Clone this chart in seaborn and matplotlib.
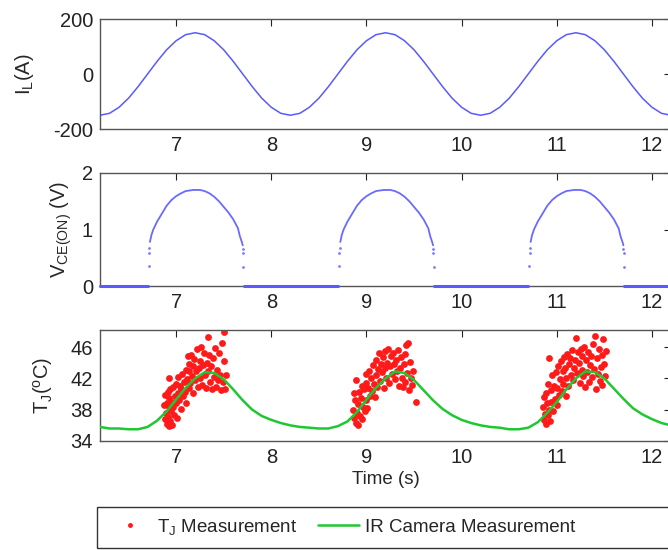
import numpy as np
import pandas as pd
import matplotlib
matplotlib.use("Agg")
import matplotlib.pyplot as plt
import seaborn as sns
from matplotlib.lines import Line2D
from matplotlib.patches import Rectangle

# ---------------- data ----------------
time_grid = np.round(np.arange(6.2, 12.2001, 0.1), 2)

il_values = [-150, -143, -121, -88, -46, 0, 46, 88, 121, 143,
             150, 143, 121, 88, 46, 0, -46, -88, -121, -143,
             -150, -143, -121, -88, -46, 0, 46, 88, 121, 143,
             150, 143, 121, 88, 46, 0, -46, -88, -121, -143,
             -150, -143, -121, -88, -46, 0, 46, 88, 121, 143,
             150, 143, 121, 88, 46, 0, -46, -88, -121, -143,
             -150]

ir_values = [35.8, 35.6, 35.6, 35.5, 35.5, 35.8, 36.6, 37.8, 39.3, 40.8,
             42.0, 42.8, 42.7, 41.9, 40.6, 39.2, 38.0, 37.2, 36.7, 36.3,
             36.0, 35.8, 35.7, 35.6, 35.6, 35.9, 36.5, 37.7, 39.3, 40.8,
             42.0, 42.9, 42.7, 41.8, 40.5, 39.2, 38.1, 37.3, 36.7, 36.3,
             36.0, 35.8, 35.7, 35.5, 35.5, 35.7, 36.4, 37.6, 39.0, 40.6,
             42.0, 42.9, 42.8, 42.0, 40.7, 39.4, 38.2, 37.4, 36.8, 36.3,
             36.0]

# V_CE(ON) conduction arcs (dense part)
vce_arc_values = [0.78, 0.90, 1.00, 1.14, 1.28, 1.42, 1.52, 1.59, 1.64, 1.68,
                  1.70, 1.70, 1.68, 1.64, 1.58, 1.50, 1.40, 1.30, 1.18, 1.02,
                  0.88, 0.78, 0.72]
vce_arc1_t = [6.725, 6.74, 6.76, 6.80, 6.85, 6.90, 6.95, 7.00, 7.05, 7.10,
              7.18, 7.25, 7.30, 7.35, 7.40, 7.45, 7.50, 7.55, 7.60, 7.65,
              7.67, 7.69, 7.70]
vce_arc2_t = [8.725, 8.74, 8.76, 8.80, 8.85, 8.90, 8.95, 9.00, 9.05, 9.10,
              9.18, 9.25, 9.30, 9.35, 9.40, 9.45, 9.50, 9.55, 9.60, 9.65,
              9.67, 9.69, 9.70]
vce_arc3_t = [10.725, 10.74, 10.76, 10.80, 10.85, 10.90, 10.95, 11.00, 11.05, 11.10,
              11.18, 11.25, 11.30, 11.35, 11.40, 11.45, 11.50, 11.55, 11.60, 11.65,
              11.67, 11.69, 11.70]
# sparse turn-on / turn-off samples
vce_edge_t = [6.710, 6.715, 6.720, 7.700, 7.703, 7.706,
              8.710, 8.715, 8.720, 9.700, 9.703, 9.706,
              10.710, 10.715, 10.720, 11.700, 11.703, 11.706]
vce_edge_v = [0.35, 0.58, 0.68, 0.66, 0.58, 0.33,
              0.35, 0.58, 0.68, 0.66, 0.58, 0.33,
              0.35, 0.58, 0.68, 0.66, 0.58, 0.33]
# off-state (0 V) intervals
vce_off_start = [6.2, 7.71, 9.71, 11.71]
vce_off_end = [6.70, 8.70, 10.70, 12.2]

tj_time = [
    6.87, 6.88, 6.88, 6.89, 6.90, 6.90, 6.91, 6.91, 6.92, 6.92, 6.93, 6.93, 6.94, 6.94,
    6.95, 6.96, 6.96, 6.97, 6.97, 6.98, 6.99, 7.00, 7.00, 7.01, 7.02, 7.02, 7.03, 7.04,
    7.05, 7.05, 7.06, 7.07, 7.08, 7.09, 7.10, 7.10, 7.11, 7.12, 7.13, 7.13, 7.14, 7.15,
    7.16, 7.17, 7.18, 7.18, 7.19, 7.20, 7.21, 7.22, 7.23, 7.24, 7.25, 7.25, 7.26, 7.27,
    7.28, 7.29, 7.30, 7.31, 7.32, 7.33, 7.34, 7.35, 7.36, 7.37, 7.38, 7.39, 7.40, 7.41,
    7.42, 7.43, 7.44, 7.45, 7.46, 7.47, 7.48, 7.49, 7.50, 7.51, 7.52, 7.50,
    8.86, 8.87, 8.87, 8.88, 8.89, 8.89, 8.90, 8.91, 8.91, 8.92, 8.93, 8.94, 8.95, 8.95,
    8.96, 8.97, 8.98, 8.99, 9.00, 9.00, 9.01, 9.02, 9.03, 9.04, 9.05, 9.06, 9.07, 9.08,
    9.09, 9.10, 9.10, 9.11, 9.12, 9.13, 9.14, 9.15, 9.16, 9.17, 9.18, 9.19, 9.20, 9.21,
    9.22, 9.23, 9.24, 9.25, 9.26, 9.27, 9.28, 9.29, 9.30, 9.31, 9.32, 9.33, 9.34, 9.35,
    9.36, 9.37, 9.38, 9.39, 9.40, 9.41, 9.42, 9.43, 9.44, 9.45, 9.46, 9.47, 9.48, 9.49,
    9.52,
    10.86, 10.87, 10.87, 10.88, 10.89, 10.89, 10.90, 10.91, 10.91, 10.92, 10.92, 10.93,
    10.94, 10.94, 10.95, 10.96, 10.97, 10.98, 10.99, 11.00, 11.00, 11.01, 11.02, 11.03,
    11.04, 11.05, 11.06, 11.07, 11.08, 11.09, 11.10, 11.10, 11.11, 11.12, 11.13, 11.14,
    11.15, 11.16, 11.17, 11.18, 11.19, 11.20, 11.21, 11.22, 11.23, 11.24, 11.25, 11.26,
    11.27, 11.28, 11.29, 11.30, 11.31, 11.32, 11.33, 11.34, 11.35, 11.36, 11.37, 11.38,
    11.39, 11.40, 11.41, 11.42, 11.43, 11.44, 11.45, 11.46, 11.47, 11.48, 11.49, 11.50,
    11.51, 11.52]
tj_temp = [
    38.6, 36.8, 39.9, 37.6, 38.9, 36.2, 40.3, 37.1, 42.1, 38.3, 35.9, 39.5, 36.6, 40.7,
    37.9, 36.0, 39.0, 38.4, 40.9, 37.3, 39.8, 41.3, 38.8, 36.9, 40.1, 42.2, 39.2, 41.0,
    38.1, 40.6, 42.6, 39.7, 41.6, 40.3, 43.1, 38.9, 41.9, 44.9, 40.8, 42.9, 43.8, 41.4,
    45.0, 42.3, 40.2, 43.6, 44.5, 41.8, 42.9, 45.8, 40.9, 43.4, 44.2, 42.0, 46.0, 41.2,
    43.7, 45.3, 42.5, 40.8, 44.0, 47.3, 42.9, 45.0, 41.5, 43.6, 40.6, 44.6, 42.2, 45.9,
    40.9, 43.1, 41.8, 45.2, 42.5, 40.5, 46.6, 41.6, 44.2, 40.7, 42.4, 48.0,
    38.0, 40.1, 36.9, 39.2, 36.3, 41.8, 37.6, 38.7, 36.0, 40.3, 37.2, 39.5, 36.8, 41.0,
    38.4, 40.6, 37.9, 42.6, 39.3, 41.4, 38.2, 40.8, 43.0, 39.8, 42.0, 40.4, 43.7, 41.3,
    39.6, 44.4, 42.4, 40.9, 43.2, 45.2, 41.7, 43.9, 42.8, 44.7, 40.8, 45.5, 43.3, 42.0,
    44.0, 45.8, 41.4, 43.6, 44.9, 42.6, 45.3, 43.9, 41.9, 44.4, 42.9, 45.6, 41.0, 43.3,
    44.8, 42.1, 40.9, 43.8, 45.1, 41.6, 46.3, 42.7, 46.6, 40.5, 44.1, 42.0, 41.2, 43.0,
    39.0,
    38.3, 36.7, 39.6, 37.5, 40.1, 36.2, 38.9, 37.3, 41.3, 44.6, 38.0, 36.5,
    40.5, 39.0, 42.4, 37.8, 41.0, 39.4, 42.8, 38.6, 40.8, 43.6, 39.9, 41.9,
    44.2, 40.4, 42.9, 41.3, 44.8, 43.3, 39.8, 42.1, 45.1, 41.0, 43.9, 44.6,
    42.5, 45.6, 41.8, 43.3, 44.3, 47.2, 42.7, 45.4, 44.0, 41.4, 45.8, 43.1,
    44.9, 42.3, 46.0, 40.9, 44.3, 42.8, 45.4, 41.6, 43.7, 44.9, 42.2, 46.4,
    43.2, 47.4, 40.6, 44.6, 42.6, 45.8, 41.7, 43.5, 45.0, 41.1, 47.0, 43.9,
    42.3, 45.5]

x_ticks = [7, 8, 9, 10, 11, 12]
il_ticks = [-200, 0, 200]
vce_ticks = [0, 1, 2]
tj_ticks = [34, 38, 42, 46]

# ---------------- style ----------------
sns.set_style("white")
plt.rcParams["font.family"] = ["Liberation Sans", "DejaVu Sans"]
plt.rcParams["mathtext.fontset"] = "custom"
plt.rcParams["mathtext.rm"] = "Liberation Sans"
plt.rcParams["mathtext.it"] = "Liberation Sans"
plt.rcParams["mathtext.default"] = "regular"
plt.rcParams["axes.unicode_minus"] = False

FS = 13.5
TFS = 14.5
W, H = 668, 550
fig = plt.figure(figsize=(W / 100, H / 100), dpi=100)

def frac_axes(top, bottom, left=100, right=671):
    return fig.add_axes([left / W, 1 - bottom / H, (right - left) / W, (bottom - top) / H])

ax1 = frac_axes(19, 129)
ax2 = frac_axes(173, 286)
ax3 = frac_axes(330, 441)

blue = "#5a5aff"
red = "#ff1a1a"
green = "#1ec832"

# panel 1: load current
df_il = pd.DataFrame({"t": time_grid, "I": il_values})
sns.lineplot(data=df_il, x="t", y="I", ax=ax1, color=blue, lw=1.1)

# panel 2: V_CE(ON)
off_rows = []
for k, (a, b) in enumerate(zip(vce_off_start, vce_off_end)):
    off_rows += [(k, a, 0.0), (k, b, 0.0)]
df_off = pd.DataFrame(off_rows, columns=["seg", "t", "v"])
sns.lineplot(data=df_off, x="t", y="v", units="seg", estimator=None, ax=ax2,
             color=blue, lw=2.2, zorder=4, clip_on=False)
arc_rows = []
for k, ts in enumerate([vce_arc1_t, vce_arc2_t, vce_arc3_t]):
    arc_rows += [(k, t, v) for t, v in zip(ts, vce_arc_values)]
df_arc = pd.DataFrame(arc_rows, columns=["arc", "t", "v"])
sns.lineplot(data=df_arc, x="t", y="v", units="arc", estimator=None, ax=ax2,
             color=blue, lw=1.3, alpha=0.9)
df_edge = pd.DataFrame({"t": vce_edge_t, "v": vce_edge_v})
sns.scatterplot(data=df_edge, x="t", y="v", ax=ax2, color=blue, s=4,
                linewidth=0, alpha=0.8)

# panel 3: junction temperature
df_tj = pd.DataFrame({"t": tj_time, "T": tj_temp})
sns.scatterplot(data=df_tj, x="t", y="T", ax=ax3, color=red, s=24,
                linewidth=0, marker="o", zorder=2)
df_ir = pd.DataFrame({"t": time_grid, "T": ir_values})
sns.lineplot(data=df_ir, x="t", y="T", ax=ax3, color=green, lw=1.8, zorder=3)

# axes styling
for ax, yt, ylim in [(ax1, il_ticks, (-200, 200)),
                     (ax2, vce_ticks, (0, 2)),
                     (ax3, tj_ticks, (34, 48.2))]:
    ax.set_xlim(6.2, 12.2)
    ax.set_ylim(*ylim)
    ax.set_xticks(x_ticks)
    ax.set_yticks(yt)
    ax.tick_params(direction="in", length=5, width=0.8, top=True, right=True,
                   labelsize=TFS, colors="#222222", pad=5)
    for s in ax.spines.values():
        s.set_visible(True)
        s.set_color("#555555")
        s.set_linewidth(1.0)
    ax.set_xlabel("")

ax1.set_ylabel(r"I$_L$(A)", fontsize=TFS, labelpad=12)
ax2.set_ylabel(r"V$_{CE(ON)}$ (V)", fontsize=TFS, labelpad=6)
ax3.set_ylabel(r"T$_J$($^o$C)", fontsize=TFS, labelpad=11)
ax3.set_xlabel("Time (s)", fontsize=FS, labelpad=3)

# legend
handles = [Line2D([], [], color=red, marker=".", ls="none", markersize=5),
           Line2D([], [], color=green, lw=1.8)]
labels = [r"T$_J$ Measurement", "IR Camera Measurement"]
fig.legend(handles, labels, loc="center left", bbox_to_anchor=(92 / W, 1 - 527 / H),
           ncol=2, frameon=False, fontsize=FS, handlelength=2.2, columnspacing=1.1,
           handletextpad=0.35)
fig.add_artist(Rectangle((97 / W, 1 - 548 / H), 620 / W, 41 / H,
                         transform=fig.transFigure, fill=False, ec="#333333", lw=1.0))

fig.savefig("out.png", dpi=100)
